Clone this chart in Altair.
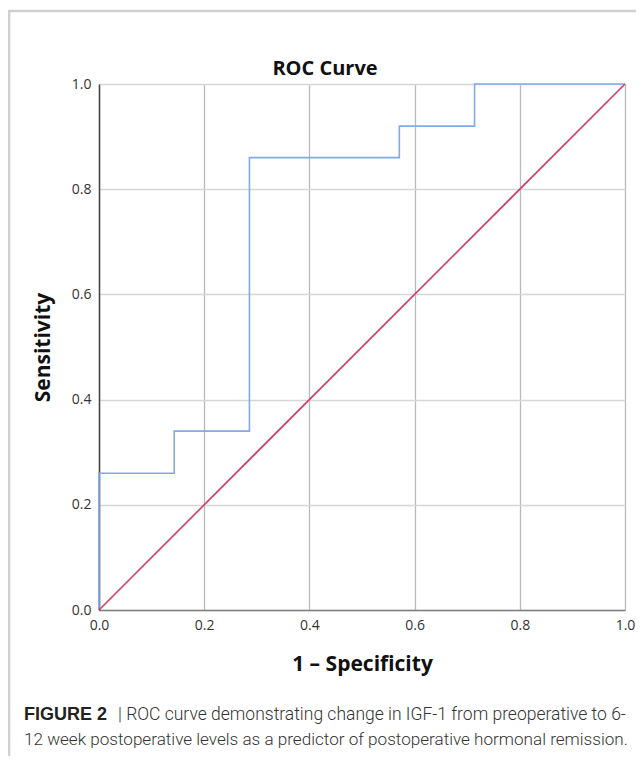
import altair as alt
import pandas as pd

# ROC curve (1 - specificity, sensitivity)
fpr = [0.0, 0.0, 0.143, 0.286, 0.571, 0.714, 1.0]
tpr = [0.0, 0.26, 0.34, 0.86, 0.92, 1.0, 1.0]
# reference diagonal
ref_x = [0.0, 1.0]
ref_y = [0.0, 1.0]
ticks = [0.0, 0.2, 0.4, 0.6, 0.8, 1.0]

chart_title = "ROC Curve"
x_title = "1 \u2013 Specificity"
y_title = "Sensitivity"
cap_bold = "FIGURE 2"
cap_line1 = "| ROC curve demonstrating change in IGF-1 from preoperative to 6-"
cap_line2 = "12 week postoperative levels as a predictor of postoperative hormonal remission."

W, H = 526, 526
FONT = "Open Sans"
CAPFONT = "Roboto"

roc = pd.DataFrame({"fpr": fpr, "tpr": tpr})
diag = pd.DataFrame({"fpr": ref_x, "tpr": ref_y})

xscale = alt.Scale(domain=[0, 1], nice=False, zero=False)
yscale = alt.Scale(domain=[0, 1], nice=False, zero=False)

x_axis = alt.Axis(values=ticks, format=".1f", title=x_title, ticks=False, labelFlush=False,
                  labelFont=FONT, labelFontSize=14, labelColor="#333333", labelPadding=8,
                  gridColor="#b9b9b9", gridWidth=1.3, domainColor="#808080", domainWidth=1.5,
                  titleFont=FONT, titleFontSize=21, titleFontWeight="bold", titleColor="#111111",
                  titleX=W / 2, titleY=60, titleBaseline="alphabetic", titleAlign="center")
y_axis = alt.Axis(values=ticks, format=".1f", title=y_title, ticks=False, labelFlush=False,
                  labelFont=FONT, labelFontSize=14, labelColor="#333333", labelPadding=8,
                  gridColor="#d6d6d6", gridWidth=1.3, domainColor="#444444", domainWidth=1.5,
                  titleFont=FONT, titleFontSize=21, titleFontWeight="bold", titleColor="#111111",
                  titleX=-56, titleY=H / 2, titleBaseline="middle", titleAlign="center", titleAngle=-90)

base_roc = alt.Chart(roc).mark_line(interpolate="step-after", color="#82a9ea", strokeWidth=1.6).encode(
    x=alt.X("fpr:Q", scale=xscale, axis=x_axis),
    y=alt.Y("tpr:Q", scale=yscale, axis=y_axis),
)
diag_line = alt.Chart(diag).mark_line(color="#d23a62", strokeWidth=1.6).encode(
    x=alt.X("fpr:Q", scale=xscale),
    y=alt.Y("tpr:Q", scale=yscale),
)

one = pd.DataFrame({"a": [0]})
border = alt.Chart(one).mark_rect(fill=None, stroke="#d0d0d0", strokeWidth=2.5).encode(
    x=alt.value(-90), y=alt.value(-73), x2=alt.value(600), y2=alt.value(720)
)

title_txt = alt.Chart(pd.DataFrame({"t": [chart_title]})).mark_text(
    font=FONT, fontSize=20, fontWeight="bold", align="center", baseline="alphabetic", color="#111111"
).encode(text="t:N", x=alt.value(226), y=alt.value(-9))

cap_b = alt.Chart(pd.DataFrame({"t": [cap_bold]})).mark_text(
    font="Liberation Sans", fontSize=18, fontWeight="bold", align="left", baseline="alphabetic", color="#222222"
).encode(text="t:N", x=alt.value(-75), y=alt.value(636))
cap_1 = alt.Chart(pd.DataFrame({"t": [cap_line1]})).mark_text(
    font=CAPFONT, fontSize=17.5, fontWeight=300, align="left", baseline="alphabetic", color="#333333"
).encode(text="t:N", x=alt.value(19), y=alt.value(636))
cap_2 = alt.Chart(pd.DataFrame({"t": [cap_line2]})).mark_text(
    font=CAPFONT, fontSize=17.1, fontWeight=300, align="left", baseline="alphabetic", color="#333333"
).encode(text="t:N", x=alt.value(-75), y=alt.value(661))

chart = alt.layer(border, base_roc, diag_line, title_txt, cap_b, cap_1, cap_2).properties(
    width=W, height=H,
    autosize=alt.AutoSizeParams(type="none"),
    padding={"left": 91, "top": 76, "right": 11, "bottom": 146},
).configure_view(stroke=None).configure(background="white")

chart.save("out.html", embed_options={"renderer": "svg", "actions": False})
